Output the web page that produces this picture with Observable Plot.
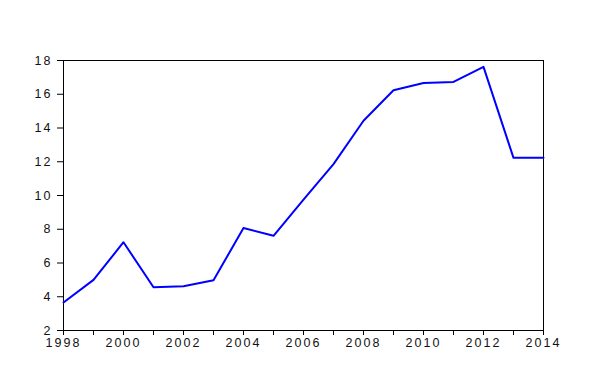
<!DOCTYPE html>
<html>
<head>
<meta charset="utf-8">
<script src="https://cdn.jsdelivr.net/npm/d3@7"></script>
<script src="https://cdn.jsdelivr.net/npm/@observablehq/plot@0.6"></script>
<style>
  html, body { margin: 0; padding: 0; background: #fff; }
  #chart svg { display: block; }
  #chart svg text { letter-spacing: 2px; font-size: 12.5px; }
</style>
</head>
<body>
<div id="chart"></div>
<script>
const years = [1998, 1999, 2000, 2001, 2002, 2003, 2004, 2005, 2006, 2007, 2008, 2009, 2010, 2011, 2012, 2013, 2014];
const values = [3.66, 5.0, 7.23, 4.56, 4.62, 4.98, 8.07, 7.61, 9.76, 11.86, 14.43, 16.24, 16.67, 16.73, 17.62, 12.23, 12.23];
const xTicks = [1998, 1999, 2000, 2001, 2002, 2003, 2004, 2005, 2006, 2007, 2008, 2009, 2010, 2011, 2012, 2013, 2014];
const yTicks = [2, 4, 6, 8, 10, 12, 14, 16, 18];

const data = years.map((y, i) => ({year: y, value: values[i]}));

const chart = Plot.plot({
  width: 594,
  height: 375,
  marginLeft: 63,
  marginRight: 51,
  marginTop: 60,
  marginBottom: 45,
  style: {fontFamily: "Liberation Sans, Arial, sans-serif", background: "#fff", color: "#000"},
  x: {domain: [1998, 2014]},
  y: {domain: [2, 18]},
  marks: [
    Plot.frame({stroke: "#000", strokeWidth: 1}),
    Plot.axisX({ticks: xTicks, tickSize: 5, tickPadding: 3, stroke: "#000",
      tickFormat: d => d % 2 === 0 ? String(d) : "", label: null, fill: "#111"}),
    Plot.axisY({ticks: yTicks, tickSize: 6, tickPadding: 5, stroke: "#000",
      tickFormat: d => String(d), label: null, fill: "#111"}),
    Plot.lineY(data, {x: "year", y: "value", stroke: "#0000ff", strokeWidth: 2})
  ]
});
document.getElementById("chart").appendChild(chart);
</script>
</body>
</html>
